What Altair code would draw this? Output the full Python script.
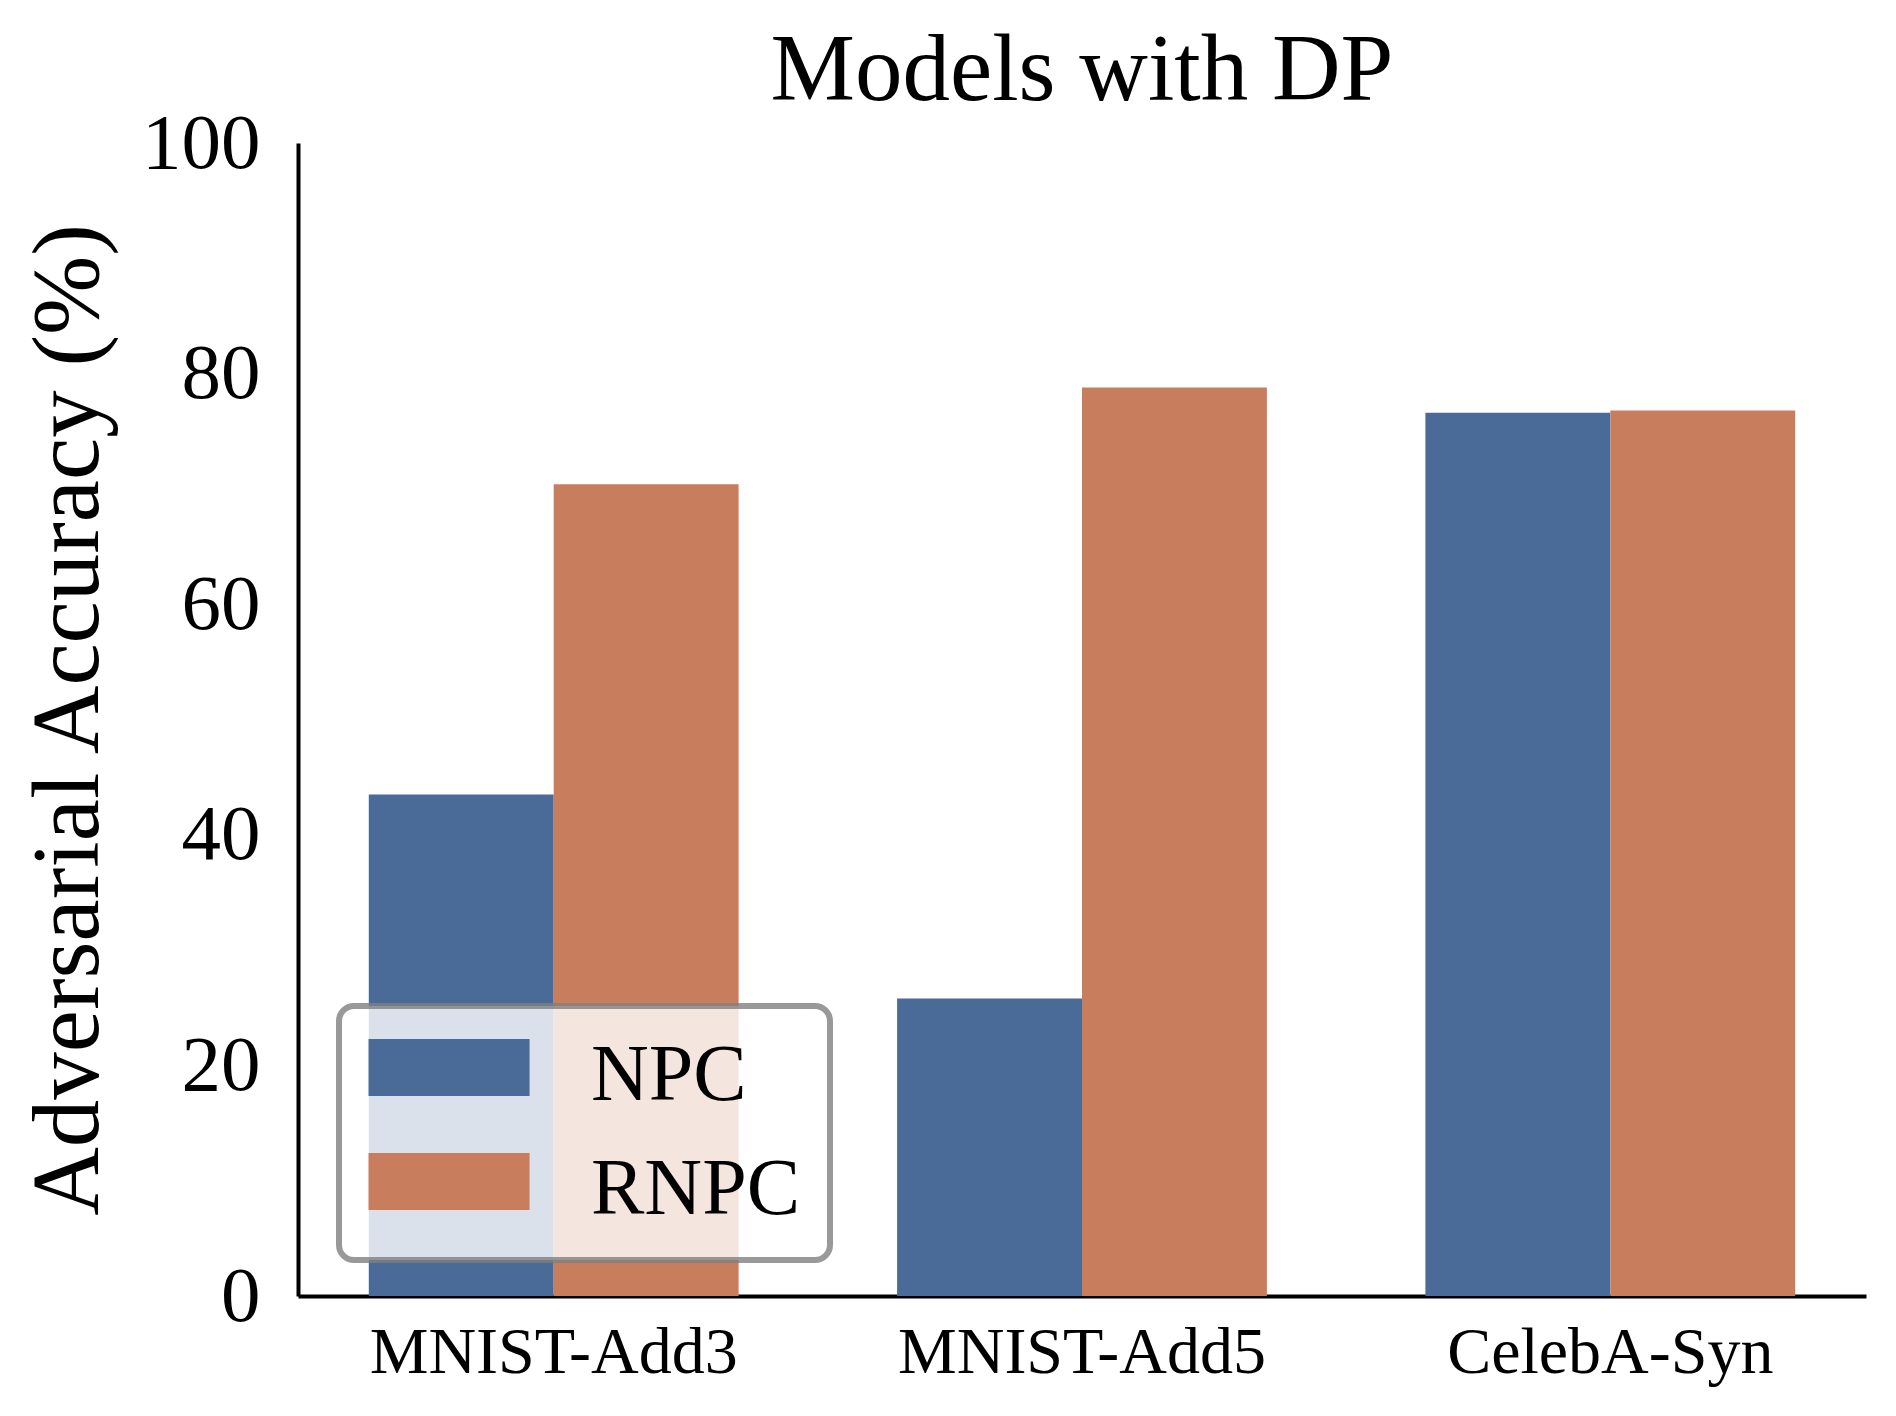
import altair as alt
import pandas as pd

datasets = ["MNIST-Add3", "MNIST-Add5", "CelebA-Syn"]
methods = ["NPC", "RNPC"]
npc_values = [43.5, 25.8, 76.6]
rnpc_values = [70.4, 78.8, 76.8]
y_ticks = [0, 20, 40, 60, 80, 100]
colors = ["#4a6a98", "#c87e5d"]

rows = []
for d, v in zip(datasets, npc_values):
    rows.append({"Dataset": d, "Method": "NPC", "Accuracy": v})
for d, v in zip(datasets, rnpc_values):
    rows.append({"Dataset": d, "Method": "RNPC", "Accuracy": v})
df = pd.DataFrame(rows)

FONT = "Liberation Serif"

chart = alt.Chart(df).mark_bar().encode(
    x=alt.X(
        "Dataset:N",
        sort=datasets,
        scale=alt.Scale(paddingInner=0.3, paddingOuter=0.134),
        axis=alt.Axis(
            title=None, labelAngle=0, labelFontSize=66, labelFont=FONT,
            labelColor="black", labelPadding=24, ticks=False, tickSize=0,
            domainColor="black", domainWidth=4, labelLimit=0, grid=False,
        ),
    ),
    xOffset=alt.XOffset("Method:N", sort=methods,
                        scale=alt.Scale(paddingInner=0, paddingOuter=0)),
    y=alt.Y(
        "Accuracy:Q",
        scale=alt.Scale(domain=[0, 100], nice=False),
        axis=alt.Axis(
            values=y_ticks, title="Adversarial Accuracy (%)",
            labelFontSize=79, labelFont=FONT, labelColor="black",
            labelPadding=38, ticks=False, tickSize=0, grid=False,
            domainColor="black", domainWidth=4,
            titleFont=FONT, titleFontSize=95, titleFontWeight="normal",
            titleColor="black", titlePadding=24,
        ),
    ),
    color=alt.Color(
        "Method:N", sort=methods,
        scale=alt.Scale(domain=methods, range=colors),
        legend=alt.Legend(
            title=None, orient="none", legendX=41, legendY=863,
            symbolType="M-1.42,-1.3H4.23V0.7H-1.42Z", symbolSize=3249,
            symbolStrokeWidth=0, symbolOpacity=1,
            labelFontSize=80, labelFont=FONT, labelColor="black",
            labelOffset=142, padding=30, rowPadding=34, labelLimit=0,
            fillColor="rgba(255,255,255,0.8)",
            strokeColor="rgba(128,128,128,0.8)", cornerRadius=15,
        ),
    ),
).properties(
    width=1568,
    height=1153,
    background="white",
    title=alt.TitleParams(
        "Models with DP", fontSize=95, font=FONT, fontWeight="normal",
        anchor="middle", offset=30, dy=46, color="black",
    ),
    autosize=alt.AutoSizeParams(type="none"),
    padding={"left": 290, "top": 135, "right": 22, "bottom": 112},
).configure_view(stroke=None).configure_axis(grid=False).configure_legend(
    strokeWidth=6
)

chart.save("out.html", embed_options={"renderer": "svg", "actions": False})
